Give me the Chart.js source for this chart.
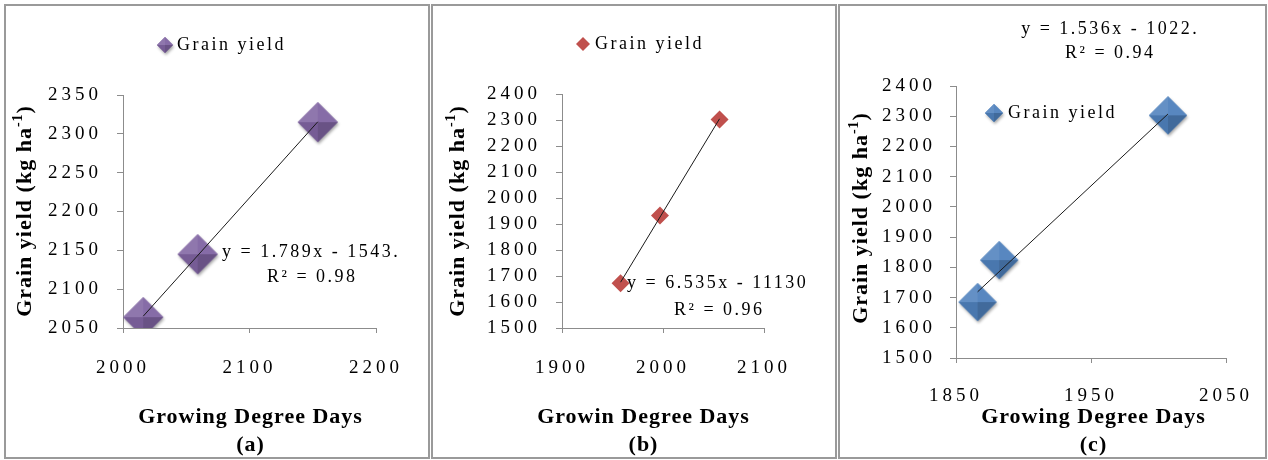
<!DOCTYPE html>
<html><head><meta charset="utf-8">
<script src="https://cdn.jsdelivr.net/npm/chart.js@4.4.0/dist/chart.umd.min.js"></script>
<style>
body{margin:0;width:1268px;height:460px;background:#fff;position:relative;overflow:hidden}
.frame{position:absolute;border:2px solid #9a9a9a;box-sizing:border-box;top:4px;height:455px}
canvas{position:absolute;top:0}
</style></head><body>
<div class="frame" style="left:4px;width:426px"></div>
<div class="frame" style="left:431px;width:406px"></div>
<div class="frame" style="left:838px;width:429px"></div>
<div id="wa" style="position:absolute;left:0;top:0;width:430px;height:460px"><canvas id="ca"></canvas></div>
<div id="wb" style="position:absolute;left:430px;top:0;width:407px;height:460px"><canvas id="cb"></canvas></div>
<div id="wc" style="position:absolute;left:837px;top:0;width:431px;height:460px"><canvas id="cc"></canvas></div>
<script>
// ---------- data ----------
const gddA = [2016, 2059, 2154];
const yieldA = [2064, 2145, 2315];
const gddB = [1958, 1997, 2056];
const yieldB = [1672, 1933, 2302];
const gddC = [1866, 1882, 2007];
const yieldC = [1685, 1824, 2303];
const seriesName = 'Grain yield';
const eqA = ['y = 1.789x - 1543.', 'R² = 0.98'];
const eqB = ['y = 6.535x - 11130', 'R² = 0.96'];
const eqC = ['y = 1.536x - 1022.', 'R² = 0.94'];
const xTitleA = 'Growing Degree Days';
const xTitleB = 'Growin Degree Days';
const xTitleC = 'Growing Degree Days';
const captions = ['(a)', '(b)', '(c)'];

const SERIF = '"Liberation Serif","Times New Roman",serif';

function shade(hex, f) {
  const n = parseInt(hex.slice(1), 16);
  let r = (n >> 16) & 255, g = (n >> 8) & 255, b = n & 255;
  const t = f < 0 ? 0 : 255, p = Math.abs(f);
  r = Math.round((t - r) * p + r); g = Math.round((t - g) * p + g); b = Math.round((t - b) * p + b);
  return `rgb(${r},${g},${b})`;
}
function diamond(color, size, bevel) {
  const pad = 4, S = size + pad * 2;
  const c = document.createElement('canvas'); c.width = S; c.height = S;
  const x = c.getContext('2d');
  const cx = S / 2, cy = S / 2, r = size / 2;
  const L = [cx - r, cy], T = [cx, cy - r], R = [cx + r, cy], B = [cx, cy + r], C = [cx, cy];
  if (bevel) {
    x.save(); x.shadowColor = 'rgba(0,0,0,0.35)'; x.shadowBlur = 3; x.shadowOffsetX = 1; x.shadowOffsetY = 2;
    x.beginPath(); x.moveTo(...L); x.lineTo(...T); x.lineTo(...R); x.lineTo(...B); x.closePath();
    x.fillStyle = color; x.fill(); x.restore();
    const faces = [[L, T, 0.12], [T, R, 0.05], [R, B, -0.18], [B, L, -0.08]];
    faces.forEach(([p, q, f]) => {
      x.beginPath(); x.moveTo(...p); x.lineTo(...q); x.lineTo(...C); x.closePath();
      x.fillStyle = shade(color, f); x.fill();
    });
  } else {
    x.beginPath(); x.moveTo(...L); x.lineTo(...T); x.lineTo(...R); x.lineTo(...B); x.closePath();
    x.fillStyle = color; x.fill();
  }
  return c;
}
function trend(xs, ys) {
  const n = xs.length;
  const mx = xs.reduce((a, b) => a + b) / n, my = ys.reduce((a, b) => a + b) / n;
  let sxy = 0, sxx = 0;
  for (let i = 0; i < n; i++) { sxy += (xs[i] - mx) * (ys[i] - my); sxx += (xs[i] - mx) ** 2; }
  const m = sxy / sxx, b = my - m * mx;
  const x0 = Math.min(...xs), x1 = Math.max(...xs);
  return [{ x: x0, y: m * x0 + b }, { x: x1, y: m * x1 + b }];
}
function txt(ctx, s, x, y, font, spacing, align) {
  ctx.save();
  ctx.font = font; ctx.fillStyle = '#000'; ctx.textBaseline = 'middle';
  ctx.letterSpacing = spacing + 'px';
  const w = ctx.measureText(s).width - spacing;
  let sx = x;
  if (align === 'center') sx = x - w / 2; else if (align === 'right') sx = x - w;
  ctx.textAlign = 'left';
  ctx.fillText(s, sx, y);
  ctx.restore();
}
function yTitle(ctx, cx, cy) {
  ctx.save();
  ctx.translate(cx, cy); ctx.rotate(-Math.PI / 2);
  ctx.fillStyle = '#000'; ctx.textBaseline = 'middle';
  ctx.letterSpacing = '1px';
  const f1 = 'bold 22px ' + SERIF, f2 = 'bold 14px ' + SERIF;
  const a = 'Grain yield (kg ha', s = '-1', z = ')';
  ctx.font = f1; const wa = ctx.measureText(a).width, wz = ctx.measureText(z).width;
  ctx.font = f2; const ws = ctx.measureText(s).width;
  let x = -(wa + ws + wz) / 2;
  ctx.font = f1; ctx.fillText(a, x, 0); x += wa;
  ctx.font = f2; ctx.fillText(s, x, -7); x += ws;
  ctx.font = f1; ctx.fillText(z, x, 0);
  ctx.restore();
}

function makeChart(id, W, area, cfg) {
  const yW = area.left - 2, xH = 460 - area.bottom - 2;
  const canvas = document.getElementById(id);
  const spacingPlugin = {
    id: 'sp',
    beforeDraw(ch) { ch.ctx.letterSpacing = '4px'; },
    afterDraw(ch) {
      ch.ctx.letterSpacing = '0px';
      cfg.draw(ch.ctx, ch);
    }
  };
  return new Chart(canvas, {
    type: 'scatter',
    data: {
      datasets: [
        { label: 'trend', data: trend(cfg.xs, cfg.ys), showLine: true, borderColor: '#1a1a1a', borderWidth: 1, pointRadius: 0, fill: false },
        { label: seriesName, data: cfg.xs.map((v, i) => ({ x: v, y: cfg.ys[i] })), pointStyle: cfg.marker, pointRadius: cfg.r, backgroundColor: cfg.color, borderWidth: 0 }
      ]
    },
    options: {
      responsive: true, maintainAspectRatio: false, animation: false,
      layout: { padding: { left: area.left - yW, top: area.top, right: W - area.right, bottom: 460 - area.bottom - xH } },
      plugins: { legend: { display: false }, tooltip: { enabled: false } },
      scales: {
        x: {
          type: 'linear', min: cfg.xmin, max: cfg.xmax,
          ticks: { stepSize: 100, color: '#000', font: { family: SERIF, size: 19 }, padding: cfg.xpad, maxRotation: 0, callback: v => String(v) },
          grid: { drawOnChartArea: false, tickLength: 5, color: '#8c8c8c' },
          border: { color: '#8c8c8c', width: 1 },
          afterFit(s) { s.height = xH; }
        },
        y: {
          type: 'linear', min: cfg.ymin, max: cfg.ymax,
          ticks: { stepSize: cfg.ystep, color: '#000', font: { family: SERIF, size: 19 }, padding: cfg.ypad, callback: v => String(v) },
          grid: { drawOnChartArea: false, tickLength: 6, color: '#8c8c8c' },
          border: { color: '#8c8c8c', width: 1 },
          afterFit(s) { s.width = yW; }
        }
      }
    },
    plugins: [spacingPlugin]
  });
}

const purple = '#8064A2', red = '#C0504D', blue = '#4F81BD';
const REG = '18px ' + SERIF, BOLD = 'bold 22px ' + SERIF;

makeChart('ca', 430, { left: 123, right: 376, top: 95, bottom: 328 }, {
  xs: gddA, ys: yieldA, xmin: 2000, xmax: 2200, ymin: 2050, ymax: 2350, ystep: 50, xpad: 24, ypad: 15,
  marker: diamond(purple, 40, true), r: 20, color: purple,
  draw(ctx) {
    ctx.drawImage(diamond(purple, 16, true), 165 - 12, 45 - 12);
    txt(ctx, seriesName, 177, 45, REG, 2.5, 'left');
    txt(ctx, eqA[0], 222, 252, REG, 2.5, 'left');
    txt(ctx, eqA[1], 311, 277, REG, 2.5, 'center');
    txt(ctx, xTitleA, 250, 417, BOLD, 1, 'center');
    txt(ctx, captions[0], 250, 445, BOLD, 1, 'center');
    yTitle(ctx, 25, 211);
  }
});
makeChart('cb', 407, { left: 132, right: 334, top: 94, bottom: 328 }, {
  xs: gddB, ys: yieldB, xmin: 1900, xmax: 2100, ymin: 1500, ymax: 2400, ystep: 100, xpad: 24, ypad: 15,
  marker: 'rectRot', r: 9, color: red,
  draw(ctx) {
    ctx.save(); ctx.fillStyle = red; ctx.beginPath();
    ctx.moveTo(153 - 7, 44); ctx.lineTo(153, 37); ctx.lineTo(153 + 7, 44); ctx.lineTo(153, 51); ctx.closePath(); ctx.fill(); ctx.restore();
    txt(ctx, seriesName, 165, 44, REG, 2.5, 'left');
    txt(ctx, eqB[0], 197, 283, REG, 2.5, 'left');
    txt(ctx, eqB[1], 288, 310, REG, 2.5, 'center');
    txt(ctx, xTitleB, 213, 417, BOLD, 1, 'center');
    txt(ctx, captions[1], 213, 445, BOLD, 1, 'center');
    yTitle(ctx, 28, 211);
  }
});
makeChart('cc', 431, { left: 119, right: 389, top: 86, bottom: 358 }, {
  xs: gddC, ys: yieldC, xmin: 1850, xmax: 2050, ymin: 1500, ymax: 2400, ystep: 100, xpad: 22, ypad: 14,
  marker: diamond(blue, 38, true), r: 19, color: blue,
  draw(ctx) {
    ctx.drawImage(diamond(blue, 18, true), 157 - 13, 113 - 13);
    txt(ctx, seriesName, 171, 113, REG, 2.5, 'left');
    txt(ctx, eqC[0], 272, 29, REG, 2.5, 'center');
    txt(ctx, eqC[1], 272, 53, REG, 2.5, 'center');
    txt(ctx, xTitleC, 256, 417, BOLD, 1, 'center');
    txt(ctx, captions[2], 256, 445, BOLD, 1, 'center');
    yTitle(ctx, 24, 218);
  }
});
</script>
</body></html>
